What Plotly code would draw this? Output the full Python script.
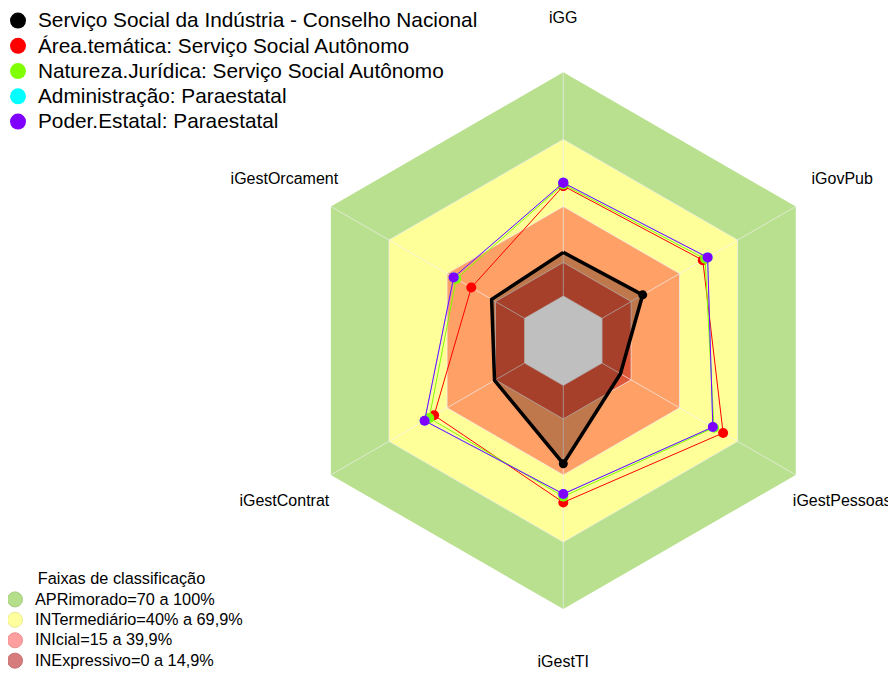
import plotly.graph_objects as go

# ---------------- data ----------------
categories = ['iGG', 'iGovPub', 'iGestPessoas', 'iGestTI', 'iGestContrat', 'iGestOrcament']

series_names = [
    'Serviço Social da Indústria - Conselho Nacional',
    'Área.temática: Serviço Social Autônomo',
    'Natureza.Jurídica: Serviço Social Autônomo',
    'Administração: Paraestatal',
    'Poder.Estatal: Paraestatal',
]
sesi_cn = [19.5, 21.0, 9.5, 35.0, 15.5, 17.0]
area_tematica = [49.2, 52.0, 62.5, 52.3, 46.7, 27.5]
natureza_juridica = [49.9, 53.2, 57.8, 49.7, 49.2, 35.3]
administracao = [50.6, 54.5, 57.2, 48.5, 51.6, 36.6]
poder_estatal = [50.6, 54.5, 57.2, 48.5, 51.6, 36.6]

band_names = ['APRimorado=70 a 100%', 'INTermediário=40% a 69,9%',
              'INIcial=15 a 39,9%', 'INExpressivo=0 a 14,9%']
band_upper = [100, 70, 40, 15]
band_lower = 0
grid_levels = [0, 15, 40, 70]

# ---------------- style ----------------
series_values = [sesi_cn, area_tematica, natureza_juridica, administracao, poder_estatal]
series_colors = ['#000000', '#FF0000', '#80FF00', '#00FFFF', '#8000FF']
series_widths = [3.5, 1, 1, 0.6, 1]
band_fill_colors = ['#B9E08E', '#FFFF99', '#FFA066', '#DE5638']
band_legend_colors = ['#B5DE8A', '#FFFF9E', '#FF9E9E', '#D67C7C']
band_legend_lines = ['#A6CC7E', '#EBEB90', '#EB9090', '#C47070']
FONT = 'Arial, Liberation Sans, sans-serif'
R_MIN, R_MAX, LABEL_R = -20, 128, 124

W, H = 896, 674
PAGE = 8  # default body margin of the page holding the figure
cx, cy, r100 = 563.3 - PAGE, 340.7 - PAGE, 268.4
rpx = r100 * (R_MAX - R_MIN) / (100 - R_MIN)
dom_x = [(cx - rpx) / W, (cx + rpx) / W]
dom_y = [max(0.0, 1 - (cy + rpx) / H), min(1.0, 1 - (cy - rpx) / H)]


def close(v):
    return list(v) + [v[0]]


def big(text, px):
    return '<span style="font-size:%.1fpx">%s</span>' % (px, text)


theta_c = close(categories)

fig = go.Figure()

# classification bands (largest first), white centre
for up, col in zip(band_upper, band_fill_colors):
    fig.add_trace(go.Scatterpolar(r=close([up] * len(categories)), theta=theta_c,
                                  mode='lines', fill='toself', fillcolor=col,
                                  line=dict(width=0, color=col), hoverinfo='skip',
                                  showlegend=False))
fig.add_trace(go.Scatterpolar(r=close([band_lower] * len(categories)), theta=theta_c,
                              mode='lines', fill='toself', fillcolor='white',
                              line=dict(width=0, color='white'), hoverinfo='skip',
                              showlegend=False))

# grid drawn over the bands
for lvl in grid_levels:
    fig.add_trace(go.Scatterpolar(r=close([lvl] * len(categories)), theta=theta_c,
                                  mode='lines', line=dict(width=1, color='rgba(238,238,238,0.7)'),
                                  hoverinfo='skip', showlegend=False))
sp_r, sp_t = [], []
for c in categories:
    sp_r += [0, 100, None]
    sp_t += [c, c, c]
fig.add_trace(go.Scatterpolar(r=sp_r, theta=sp_t, mode='lines',
                              line=dict(width=1, color='rgba(238,238,238,0.7)'),
                              hoverinfo='skip', showlegend=False, connectgaps=False))

# data series
for name, vals, col, w in zip(series_names, series_values, series_colors, series_widths):
    is_main = (col == '#000000')
    fig.add_trace(go.Scatterpolar(
        r=close(vals), theta=theta_c, mode='lines+markers', name=name,
        line=dict(color=col, width=w),
        marker=dict(color=col, size=9 if is_main else 10),
        fill='toself' if is_main else 'none',
        fillcolor='rgba(0,0,0,0.25)' if is_main else None,
        showlegend=False))

# axis labels
fig.add_trace(go.Scatterpolar(r=[LABEL_R] * len(categories), theta=categories, mode='text',
                              text=categories, textposition='middle center',
                              textfont=dict(size=16, color='black', family=FONT),
                              hoverinfo='skip', showlegend=False, cliponaxis=False))

# legend entries
for name, col in zip(series_names, series_colors):
    fig.add_trace(go.Scatterpolar(r=[None], theta=[categories[0]], mode='markers',
                                  name=big(name, 20.8),
                                  marker=dict(color=col, size=16), legend='legend'))
for name, col, lc in zip(band_names, band_legend_colors, band_legend_lines):
    fig.add_trace(go.Scatterpolar(r=[None], theta=[categories[0]], mode='markers',
                                  name=big(name, 16.3),
                                  marker=dict(color=col, size=15, line=dict(color=lc, width=1)),
                                  legend='legend2'))

fig.update_layout(
    width=W, height=H, margin=dict(l=0, r=0, t=0, b=0, autoexpand=False),
    paper_bgcolor='white', plot_bgcolor='white',
    font=dict(family=FONT, color='black'),
    polar=dict(
        domain=dict(x=dom_x, y=dom_y), bgcolor='rgba(0,0,0,0)', gridshape='linear',
        radialaxis=dict(range=[R_MIN, R_MAX], visible=False),
        angularaxis=dict(type='category', categoryorder='array', categoryarray=categories,
                         rotation=90, direction='clockwise', visible=False),
    ),
    legend=dict(x=-10 / W, y=1 + 5 / H, xanchor='left', yanchor='top', bgcolor='rgba(0,0,0,0)',
                font=dict(size=17.1, family=FONT, color='black'), tracegroupgap=0),
    legend2=dict(x=-13 / W, y=1 - 668 / H, xanchor='left', yanchor='bottom', bgcolor='rgba(0,0,0,0)',
                 font=dict(size=13.4, family=FONT, color='black'),
                 title=dict(text='Faixas de classificação', side='top center',
                            font=dict(size=16.3, family=FONT, color='black'))),
)

fig.write_html('out.html')
